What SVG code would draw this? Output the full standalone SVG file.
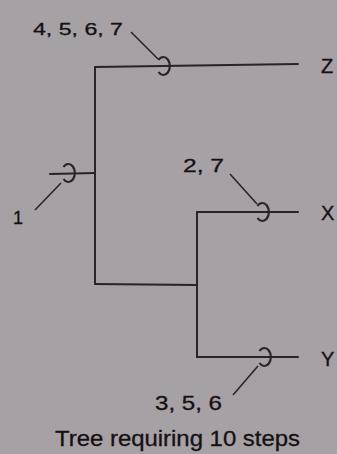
<svg xmlns="http://www.w3.org/2000/svg" width="337" height="454" viewBox="0 0 337 454">
<style>
.bg{fill:#a7a0a5}
.ln{fill:none;stroke:#2a2328;stroke-width:2;stroke-linecap:round}
.mk{fill:none;stroke:#2a2328;stroke-width:2.2}
.ld{fill:none;stroke:#2a2328;stroke-width:1.6}
text{font-family:"Liberation Sans",Arial,sans-serif;fill:#141113;stroke:#141113;stroke-width:0.3}
</style>
<defs>
<path id="ring" d="M-4.5,-6 A6.5 9 0 1 1 -4.5,6"/>
</defs>
<rect class="bg" x="0" y="0" width="337" height="454"/>
<g id="connectors">
<path class="ln" d="M95,284 L95,67 L298,64"/>
<path class="ln" d="M50,174 L95,173"/>
<path class="ln" d="M95,284 L197,285"/>
<path class="ln" d="M298,212 L197,212 L197,357 L298,357"/>
</g>
<g id="node-z">
<use href="#ring" class="mk" transform="translate(163,66)"/>
<path class="ld" d="M131,32 L158,59"/>
<text x="33" y="35" font-size="17" textLength="90" lengthAdjust="spacingAndGlyphs">4, 5, 6, 7</text>
<text x="321" y="73" font-size="20">Z</text>
</g>
<g id="node-root">
<use href="#ring" class="mk" transform="translate(68,173)"/>
<path class="ld" d="M35,210 L61,183"/>
<text x="13" y="224" font-size="18">1</text>
</g>
<g id="node-x">
<use href="#ring" class="mk" transform="translate(262,212)"/>
<path class="ld" d="M230,174 L257,204"/>
<text x="183" y="172" font-size="18" textLength="41" lengthAdjust="spacingAndGlyphs">2, 7</text>
<text x="321" y="220" font-size="20">X</text>
</g>
<g id="node-y">
<use href="#ring" class="mk" transform="translate(264,357)"/>
<path class="ld" d="M233,395 L258,366"/>
<text x="155" y="410" font-size="20" textLength="67" lengthAdjust="spacingAndGlyphs">3, 5, 6</text>
<text x="321" y="366" font-size="20">Y</text>
</g>
<text x="55" y="446" font-size="22" textLength="245" lengthAdjust="spacingAndGlyphs">Tree requiring 10 steps</text>
</svg>
